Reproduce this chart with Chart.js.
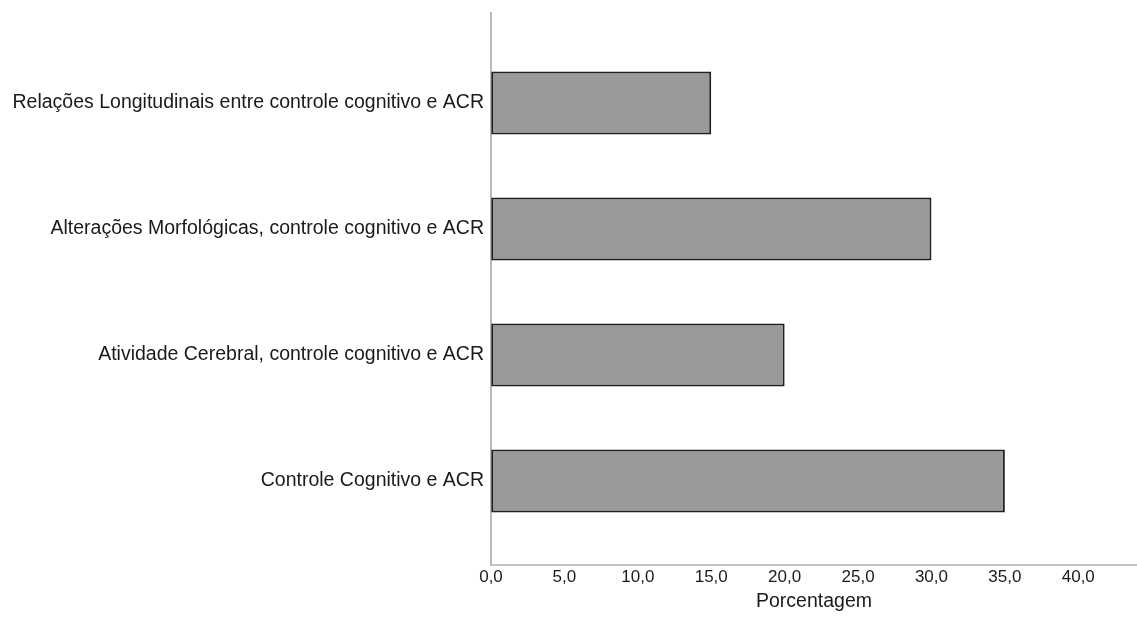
<!DOCTYPE html>
<html>
<head>
<meta charset="utf-8">
<script src="https://cdn.jsdelivr.net/npm/chart.js@4.4.1/dist/chart.umd.min.js"></script>
<style>
  html, body { margin: 0; padding: 0; background: #fff; }
  #wrap { width: 1137px; height: 625px; position: relative; }
</style>
</head>
<body>
<div id="wrap"><canvas id="mainChart"></canvas></div>
<script>
"use strict";

const categories = [
    "Relações Longitudinais entre controle cognitivo e ACR",
    "Alterações Morfológicas, controle cognitivo e ACR",
    "Atividade Cerebral, controle cognitivo e ACR",
    "Controle Cognitivo e ACR"
];
const percentages = [15.0, 30.0, 20.0, 35.0];
const xTicks = [0, 5, 10, 15, 20, 25, 30, 35, 40];
const xMax = 44;

const fontFamily = "'Liberation Sans', Arial, sans-serif";

// axis lines in SPSS style run a bit past the plot area
var axisLines = {
    id: "axisLines",
    afterDraw: function (chart) {
        var ctx = chart.ctx;
        var area = chart.chartArea;
        var axisY = area.bottom + 21;
        ctx.save();
        ctx.strokeStyle = "#8c8c8c";
        ctx.lineWidth = 1.2;
        ctx.beginPath();
        ctx.moveTo(area.left, area.top - 28);
        ctx.lineTo(area.left, axisY);
        ctx.lineTo(chart.width, axisY);
        ctx.stroke();
        ctx.restore();
    }
};

var chartSelector = document.getElementById("mainChart");

var chart = new Chart(chartSelector, {
    type: "bar",
    data: {
        labels: categories,
        datasets: [{
            label: "Porcentagem",
            data: percentages,
            backgroundColor: "#999999",
            borderColor: "#1f1f1f",
            borderWidth: 2,
            borderSkipped: false,
            categoryPercentage: 1.0,
            barPercentage: 0.5
        }]
    },
    options: {
        indexAxis: "y",
        responsive: true,
        maintainAspectRatio: false,
        animation: false,
        layout: { padding: { top: 40, right: 0, bottom: 0, left: 0 } },
        plugins: {
            legend: { display: false },
            tooltip: { enabled: false }
        },
        scales: {
            x: {
                min: 0,
                max: xMax,
                grid: { display: false, drawTicks: false, tickLength: 0 },
                border: { display: false },
                afterBuildTicks: function (scale) {
                    scale.ticks = xTicks.map(function (v) { return { value: v }; });
                },
                ticks: {
                    padding: 23,
                    color: "#1a1a1a",
                    font: { family: fontFamily, size: 17 },
                    callback: function (v) { return Number(v).toFixed(1).replace(".", ","); }
                },
                title: {
                    display: true,
                    text: "Porcentagem",
                    color: "#1a1a1a",
                    font: { family: fontFamily, size: 19.5 },
                    padding: { top: 2, bottom: 12 }
                },
                afterFit: function (scale) { scale.height = 81; }
            },
            y: {
                offset: true,
                grid: { display: false, drawTicks: false, tickLength: 0 },
                border: { display: false },
                ticks: {
                    padding: 7,
                    color: "#1a1a1a",
                    font: { family: fontFamily, size: 19.5 }
                },
                afterFit: function (scale) { scale.width = 491; }
            }
        }
    },
    plugins: [axisLines]
});
</script>
</body>
</html>
